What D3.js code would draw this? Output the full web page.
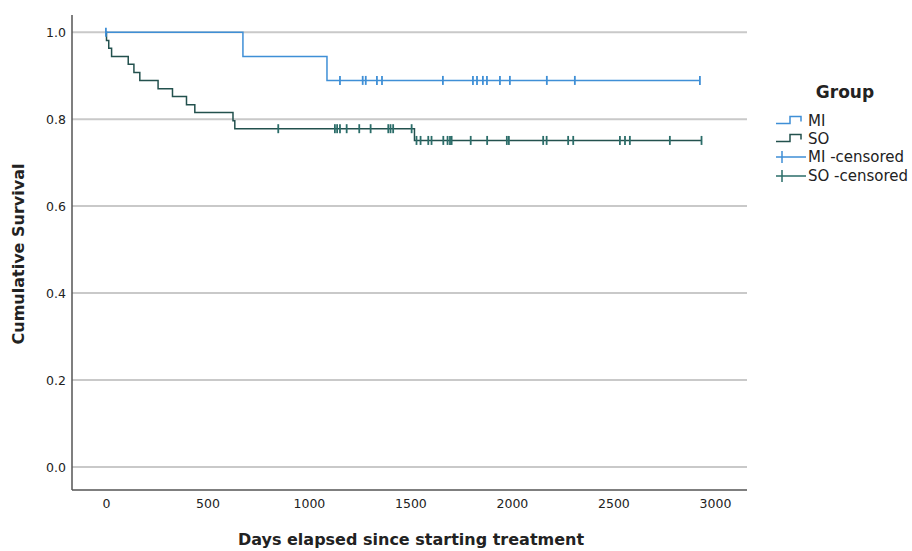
<!DOCTYPE html>
<html>
<head>
<meta charset="utf-8">
<script src="https://cdn.jsdelivr.net/npm/d3@7/dist/d3.min.js"></script>
<style>
  html, body { margin: 0; padding: 0; background: #fff; }
  svg { display: block; }
  text { font-family: "DejaVu Sans", Verdana, sans-serif; fill: #222; }
</style>
</head>
<body>
<svg id="chart" width="912" height="551"></svg>
<script>
// ---- Data ----
const xTicks = [0, 500, 1000, 1500, 2000, 2500, 3000];
const yTicks = [0.0, 0.2, 0.4, 0.6, 0.8, 1.0];

// MI group: step times (days) and survival after each step
const miTimes = [0, 675, 1089];
const miSurv  = [1.0, 0.944, 0.889];
const miEnd = 2926;
const miCensored = [0, 1153, 1265, 1280, 1335, 1360, 1660, 1808, 1828, 1857, 1877, 1941, 1990, 2172, 2310, 2926];

// SO group
const soTimes = [0, 3, 14, 28, 110, 138, 167, 257, 328, 397, 438, 626, 635, 1520];
const soSurv  = [1.0, 0.981, 0.963, 0.944, 0.926, 0.907, 0.889, 0.870, 0.852, 0.833, 0.815, 0.796, 0.778, 0.751];
const soEnd = 2934;
const soCensored = [849, 1128, 1139, 1153, 1186, 1248, 1304, 1391, 1402, 1415, 1506, 1530, 1550, 1588, 1604, 1662, 1683, 1695, 1703, 1797, 1878, 1975, 1985, 2154, 2171, 2277, 2302, 2532, 2557, 2581, 2778, 2934];

const legendLabels = ["MI", "SO", "MI -censored", "SO -censored"];

// ---- Styles ----
const miColor = "#3f8fd6";
const soLineColor = "#23514e";
const soMarkColor = "#2b6d69";

const svg = d3.select("#chart");
const pLeft = 72, pRight = 747, pTop = 15, pBottom = 490;

const x = d3.scaleLinear().domain([-167, 3158]).range([pLeft, pRight]);
const y = d3.scaleLinear().domain([-0.0527, 1.0394]).range([pBottom, pTop]);

// gridlines
svg.append("g").selectAll("line").data(yTicks).join("line")
  .attr("x1", pLeft).attr("x2", pRight)
  .attr("y1", d => y(d)).attr("y2", d => y(d))
  .attr("stroke", "#c9c9c9").attr("stroke-width", 2);

// axes
const xAxis = d3.axisBottom(x).tickValues(xTicks).tickSize(0).tickPadding(9).tickFormat(d3.format("d"));
const gx = svg.append("g").attr("transform", `translate(0,${pBottom})`).call(xAxis);
gx.select(".domain").attr("stroke", "#555").attr("stroke-width", 1.5).attr("d", `M${pLeft},0H${pRight}`);
gx.selectAll("text").style("font-size", "12.5px").attr("fill", "#222");

const yAxis = d3.axisLeft(y).tickValues(yTicks).tickSize(0).tickPadding(6).tickFormat(d3.format(".1f"));
const gy = svg.append("g").attr("transform", `translate(${pLeft},0)`).call(yAxis);
gy.select(".domain").attr("stroke", "#555").attr("stroke-width", 1.5).attr("d", `M0,${pTop}V${pBottom}`);
gy.selectAll("text").style("font-size", "12.5px").attr("fill", "#222");

// step function lookup
function survAt(times, surv, t) {
  let s = surv[0];
  for (let i = 0; i < times.length; i++) if (times[i] <= t) s = surv[i];
  return s;
}

const line = d3.line().x(d => x(d[0])).y(d => y(d[1])).curve(d3.curveStepAfter);

function drawGroup(times, surv, end, censored, lineColor, markColor) {
  const pts = times.map((t, i) => [t, surv[i]]);
  pts.push([end, surv[surv.length - 1]]);
  svg.append("path").datum(pts).attr("d", line)
    .attr("fill", "none").attr("stroke", lineColor).attr("stroke-width", 1.5);
  svg.append("g").selectAll("line").data(censored).join("line")
    .attr("x1", d => x(d)).attr("x2", d => x(d))
    .attr("y1", d => y(survAt(times, surv, d)) - 4.5)
    .attr("y2", d => y(survAt(times, surv, d)) + 4.5)
    .attr("stroke", markColor).attr("stroke-width", 1.8);
}

drawGroup(soTimes, soSurv, soEnd, soCensored, soLineColor, soMarkColor);
drawGroup(miTimes, miSurv, miEnd, miCensored, miColor, miColor);

// axis titles
svg.append("text").attr("x", 411).attr("y", 545).attr("text-anchor", "middle")
  .style("font-size", "16px").style("font-weight", "bold").text("Days elapsed since starting treatment");
svg.append("text").attr("transform", "translate(24,254) rotate(-90)").attr("text-anchor", "middle")
  .style("font-size", "16px").style("font-weight", "bold").text("Cumulative Survival");

// legend
const lg = svg.append("g");
lg.append("text").attr("x", 845).attr("y", 98).attr("text-anchor", "middle")
  .style("font-size", "17px").style("font-weight", "bold").text("Group");
const rowY = [120.5, 138.5, 157, 176];
const symColors = [miColor, soLineColor, miColor, soMarkColor];
legendLabels.forEach((lab, i) => {
  const cy = rowY[i];
  if (i < 2) {
    lg.append("path")
      .attr("d", `M776,${cy + 3}H790V${cy - 4}H801V${cy + 1}`)
      .attr("fill", "none").attr("stroke", symColors[i]).attr("stroke-width", 1.5);
  } else {
    lg.append("path")
      .attr("d", `M776,${cy}H806M782,${cy - 6}V${cy + 6}`)
      .attr("fill", "none").attr("stroke", symColors[i]).attr("stroke-width", 1.5);
  }
  lg.append("text").attr("x", 808).attr("y", cy).attr("dy", "0.36em")
    .style("font-size", "15px").text(lab);
});
</script>
</body>
</html>
